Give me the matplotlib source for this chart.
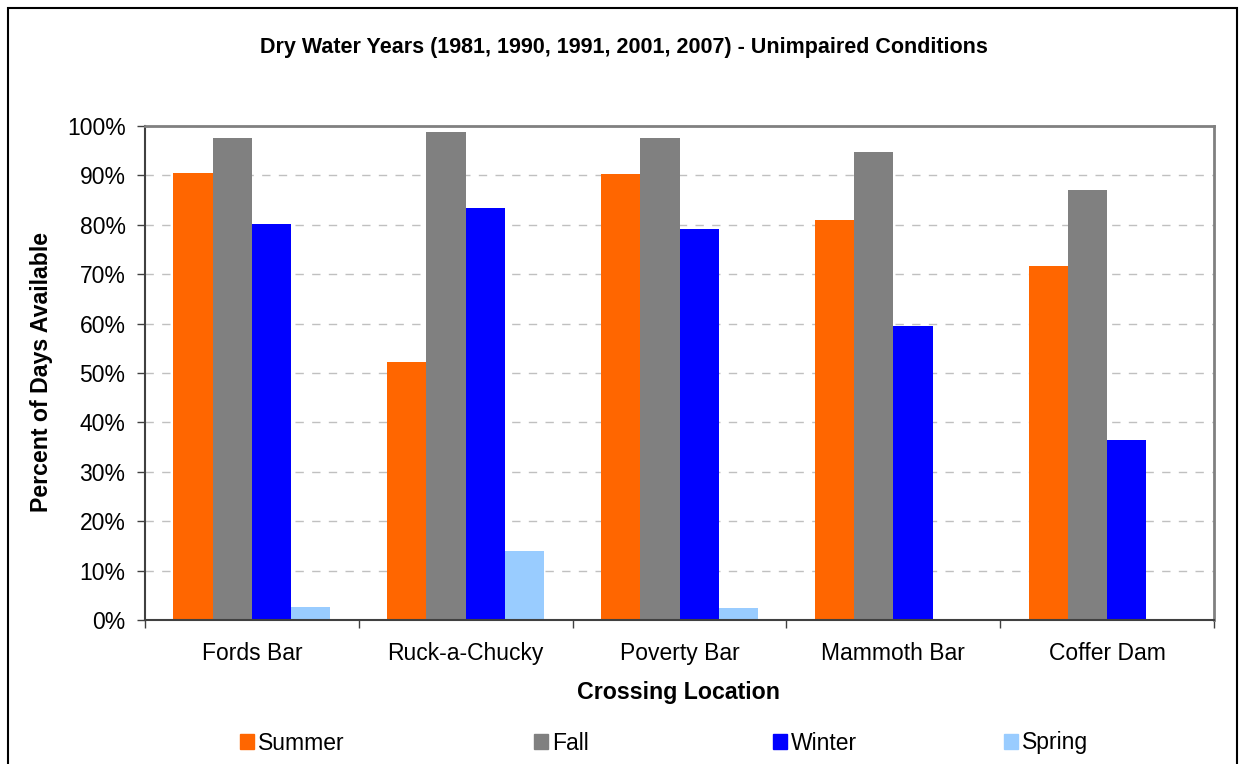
import numpy as np
import matplotlib.pyplot as plt
from matplotlib.patches import Rectangle, Patch
from matplotlib.ticker import PercentFormatter, MultipleLocator

plt.rcParams['font.family'] = ['Liberation Sans', 'DejaVu Sans']

# Data
locations = ['Fords Bar', 'Ruck-a-Chucky', 'Poverty Bar', 'Mammoth Bar', 'Coffer Dam']
seasons = ['Summer', 'Fall', 'Winter', 'Spring']
summer = [90.5, 52.2, 90.3, 81.0, 71.7]
fall = [97.6, 98.8, 97.6, 94.7, 87.0]
winter = [80.2, 83.4, 79.1, 59.5, 36.4]
spring = [2.6, 14.0, 2.5, 0.0, 0.0]
colors = ['#FF6600', '#808080', '#0000FF', '#99CCFF']

W, H = 1239, 764
fig = plt.figure(figsize=(W / 100, H / 100), dpi=100)
ax = fig.add_axes([145 / W, 1 - 620 / H, (1214 - 145) / W, (620 - 126) / H])

x = np.arange(len(locations))
bw = 0.1835
for i, (vals, c) in enumerate(zip([summer, fall, winter, spring], colors)):
    ax.bar(x + (i - 1.5) * bw, vals, width=bw, color=c, zorder=2)

ax.set_xlim(-0.5, len(locations) - 0.5)
ax.set_ylim(0, 100)
ax.yaxis.set_major_locator(MultipleLocator(10))
ax.yaxis.set_major_formatter(PercentFormatter(decimals=0))
ax.grid(axis='y', color='#c0c0c0', linestyle=(0, (6, 6)), linewidth=1, zorder=0)

ax.set_xticks(x)
ax.set_xticklabels(locations, fontsize=16.5)
ax.set_xticks(np.arange(-0.5, len(locations)), minor=True)
ax.tick_params(axis='x', which='major', length=0, pad=16)
ax.tick_params(axis='x', which='minor', length=6, width=1, direction='out', color='#404040')
ax.tick_params(axis='y', length=6, width=1, direction='out', labelsize=16.5, pad=8, color='#404040')

for s in ['top', 'right']:
    ax.spines[s].set_color('#808080')
    ax.spines[s].set_linewidth(2)
ax.spines['left'].set_color('#404040')
ax.spines['left'].set_linewidth(1.5)
ax.spines['bottom'].set_color('#404040')
ax.spines['bottom'].set_linewidth(1.5)

fig.text(624 / W, 1 - 48 / H, 'Dry Water Years (1981, 1990, 1991, 2001, 2007) - Unimpaired Conditions',
         ha='center', va='center', fontsize=15.5, fontweight='bold')
fig.text(678 / W, 1 - 692 / H, 'Crossing Location', ha='center', va='center',
         fontsize=16.7, fontweight='bold')
fig.text(42 / W, 1 - 372 / H, 'Percent of Days Available', ha='center', va='center',
         rotation=90, fontsize=16.7, fontweight='bold')

# legend entries spaced like the original
leg_x = [240, 534, 773, 1004]
for name, c, lx in zip(seasons, colors, leg_x):
    fig.legend(handles=[Patch(color=c, label=name)], loc='center left',
               bbox_to_anchor=(lx / W, 1 - 743 / H), frameon=False, fontsize=16.5,
               handlelength=0.6, handleheight=0.6, handletextpad=0.2,
               borderaxespad=0, borderpad=0)

# outer chart border
fig.patches.append(Rectangle((8 / W, -0.05), (1237 - 8) / W, 1.05 - 8 / H,
                             transform=fig.transFigure, fill=False,
                             edgecolor='black', linewidth=1.5))

fig.savefig('out.png', dpi=100)
